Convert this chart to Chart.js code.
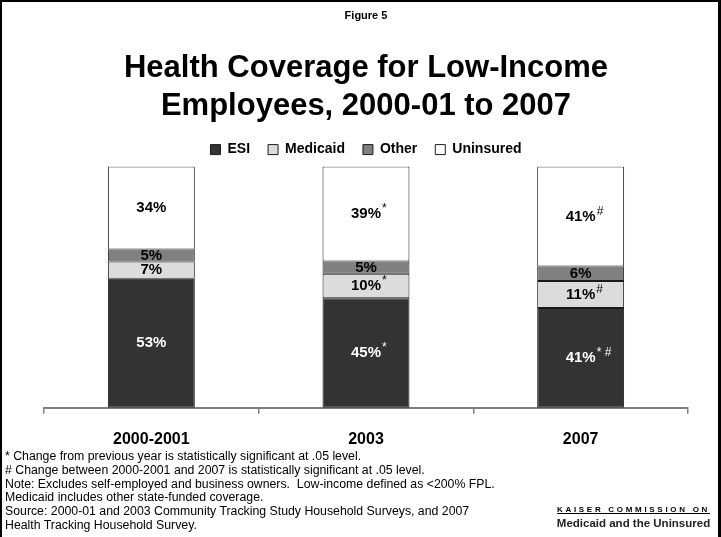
<!DOCTYPE html>
<html>
<head>
<meta charset="utf-8">
<script src="https://cdn.jsdelivr.net/npm/chart.js@4.4.1/dist/chart.umd.min.js"></script>
<style>
  html, body { margin: 0; padding: 0; background: #fff; }
  #frame {
    position: relative; width: 721px; height: 537px; box-sizing: border-box;
    border-left: 2px solid #000; border-top: 2px solid #000; border-right: 3px solid #000;
    overflow: hidden;
    font-family: "Liberation Sans", Arial, sans-serif;
  }
  #chart { position: absolute; left: -2px; top: -2px; }
  #notes {
    position: absolute; left: 3px; top: 448px;
    font-size: 12.3px; line-height: 13.8px; color: #000; white-space: nowrap;
  }
  #logo { position: absolute; left: 553px; top: 501px; text-align: center; width: 157px; }
  #logo .top {
    font-size: 8px; font-weight: bold; letter-spacing: 2.7px; text-decoration: underline;
    line-height: 13px; white-space: nowrap;
  }
  #logo .bottom {
    font-size: 11.5px; font-weight: bold; line-height: 14px; color: #222; white-space: nowrap;
  }
</style>
</head>
<body>
<div id="frame">
  <canvas id="chart" width="721" height="537"></canvas>
  <div id="notes">
    * Change from previous year is statistically significant at .05 level.<br>
    # Change between 2000-2001 and 2007 is statistically significant at .05 level.<br>
    Note: Excludes self-employed and business owners.&nbsp; Low-income defined as &lt;200% FPL.<br>
    Medicaid includes other state-funded coverage.<br>
    Source: 2000-01 and 2003 Community Tracking Study Household Surveys, and 2007<br>
    Health Tracking Household Survey.
  </div>
  <div id="logo">
    <div class="top">KAISER COMMISSION ON</div>
    <div class="bottom">Medicaid and the Uninsured</div>
  </div>
</div>
<script>
var years = ["2000-2001", "2003", "2007"];

var esi = [53, 45, 41];
var medicaid = [7, 10, 11];
var other = [5, 5, 6];
var uninsured = [34, 39, 41];

// significance marks printed after each value
var esiMarks = ["", "*", "* #"];
var medicaidMarks = ["", "*", "#"];
var otherMarks = ["", "", ""];
var uninsuredMarks = ["", "*", "#"];

Chart.defaults.font.family = '"Liberation Sans", Arial, sans-serif';
Chart.defaults.color = "#000";

var segLabels = {
  id: "segLabels",
  afterDatasetsDraw: function(chart) {
    var ctx = chart.ctx;
    ctx.save();
    ctx.textBaseline = "middle";
    chart.data.datasets.forEach(function(ds, di) {
      var meta = chart.getDatasetMeta(di);
      meta.data.forEach(function(bar, i) {
        var txt = ds.data[i] + "%";
        var y = (bar.y + bar.base) / 2;
        ctx.fillStyle = ds.labelColor;
        ctx.font = "bold 15px " + Chart.defaults.font.family;
        var w = ctx.measureText(txt).width;
        ctx.textAlign = "center";
        ctx.fillText(txt, bar.x, y);
        var mark = ds.marks[i];
        if (mark) {
          ctx.font = "12px " + Chart.defaults.font.family;
          ctx.textAlign = "left";
          ctx.fillText(mark, bar.x + w / 2 + 1, y - 5);
        }
      });
    });
    ctx.restore();
  }
};

new Chart(document.getElementById("chart"), {
  type: "bar",
  data: {
    labels: years,
    datasets: [
      { label: "ESI", data: esi, marks: esiMarks, labelColor: "#fff",
        backgroundColor: "#333333" },
      { label: "Medicaid", data: medicaid, marks: medicaidMarks, labelColor: "#000",
        backgroundColor: "#dcdcdc" },
      { label: "Other", data: other, marks: otherMarks, labelColor: "#000",
        backgroundColor: "#808080" },
      { label: "Uninsured", data: uninsured, marks: uninsuredMarks, labelColor: "#000",
        backgroundColor: "#ffffff" }
    ]
  },
  options: {
    responsive: false,
    animation: false,
    datasets: {
      bar: {
        borderColor: "#1a1a1a", borderWidth: 1, borderSkipped: false,
        categoryPercentage: 1, barPercentage: 0.405
      }
    },
    layout: { padding: { left: 44, right: 33, top: 0, bottom: 72 } },
    plugins: {
      title: {
        display: true, text: "Figure 5",
        font: { size: 11, weight: "bold" },
        padding: { top: 9, bottom: 0 }
      },
      subtitle: {
        display: true,
        text: ["Health Coverage for Low-Income", "Employees, 2000-01 to 2007"],
        color: "#000",
        font: { size: 31, weight: "bold", lineHeight: 1.2 },
        padding: { top: 28, bottom: 0 }
      },
      legend: {
        labels: {
          boxWidth: 10, boxHeight: 10, padding: 18,
          font: { size: 14, weight: "bold" }
        }
      },
      tooltip: { enabled: false }
    },
    scales: {
      x: {
        stacked: true,
        grid: { display: true, drawOnChartArea: false, drawTicks: true, tickLength: 6,
                color: "#808080", lineWidth: 1.5 },
        border: { display: true, color: "#808080", width: 2 },
        ticks: { padding: 16, font: { size: 16, weight: "bold" }, color: "#000" }
      },
      y: {
        stacked: true, display: false, min: 0, max: 99
      }
    }
  },
  plugins: [segLabels]
});
</script>
</body>
</html>
